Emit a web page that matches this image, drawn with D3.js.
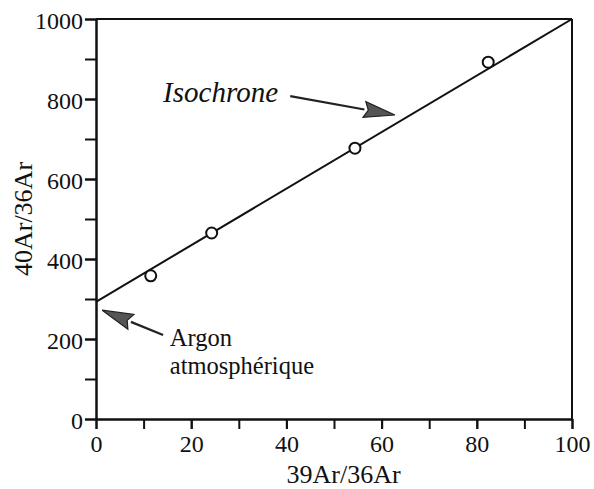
<!DOCTYPE html>
<html>
<head>
<meta charset="utf-8">
<script src="https://cdn.jsdelivr.net/npm/d3@7"></script>
<style>
  html, body { margin: 0; padding: 0; background: #fff; }
  svg { display: block; }
  svg text { font-family: "Liberation Serif", "Times New Roman", serif; fill: #111; }
</style>
</head>
<body>
<div id="chart"></div>
<script>
// ---- data ----
const pointX = [11.5, 24.3, 54.4, 82.4];
const pointY = [358, 465, 677, 892];
const lineX = [0, 100];
const lineY = [293, 1000];
const xTicks = [0, 20, 40, 60, 80, 100];
const xMinorTicks = [0, 10, 20, 30, 40, 50, 60, 70, 80, 90, 100];
const yTicks = [0, 200, 400, 600, 800, 1000];
const yMinorTicks = [0, 100, 200, 300, 400, 500, 600, 700, 800, 900, 1000];
const xTitle = "39Ar/36Ar";
const yTitle = "40Ar/36Ar";
// annotations (data units)
const isoLabel = {text: "Isochrone", x: 14.1, y: 792};
const isoArrow = {x1: 40.8, y1: 807, x2: 62.8, y2: 760};
const argonLabel = {lines: ["Argon", "atmosphérique"], x: 15.5, y: 182};
const argonArrow = {x1: 14.1, y1: 210, x2: 1.3, y2: 272};

// ---- layout ----
const W = 594, H = 489;
const m = {left: 96, top: 19, right: 22, bottom: 70};
const iw = W - m.left - m.right, ih = H - m.top - m.bottom;

const svg = d3.select("#chart").append("svg").attr("width", W).attr("height", H);
const g = svg.append("g").attr("transform", `translate(${m.left},${m.top})`);

const x = d3.scaleLinear().domain([0, 100]).range([0, iw]);
const y = d3.scaleLinear().domain([0, 1000]).range([ih, 0]);

// frame top/right
g.append("line").attr("x1", 0).attr("x2", iw).attr("y1", 0).attr("y2", 0)
  .attr("stroke", "#111").attr("stroke-width", 2);
g.append("line").attr("x1", iw).attr("x2", iw).attr("y1", 0).attr("y2", ih)
  .attr("stroke", "#111").attr("stroke-width", 2);

function styleAxis(s) {
  s.attr("font-family", null).attr("font-size", null);
  s.select(".domain").attr("stroke", "#111").attr("stroke-width", 2);
  s.selectAll(".tick line").attr("stroke", "#111").attr("stroke-width", 2);
  s.selectAll(".tick text").attr("fill", "#111").style("font-size", "24px");
}

// x axis
const xa = g.append("g").attr("transform", `translate(0,${ih})`)
  .call(d3.axisBottom(x).tickValues(xMinorTicks).tickSize(10).tickSizeOuter(0).tickFormat(""));
const xb = g.append("g").attr("transform", `translate(0,${ih})`)
  .call(d3.axisBottom(x).tickValues(xTicks).tickSize(10).tickSizeOuter(0).tickPadding(5).tickFormat(d3.format("d")));
styleAxis(xa); styleAxis(xb);
xb.selectAll(".tick text").attr("dy", "0.74em");

// y axis
const ya = g.append("g")
  .call(d3.axisLeft(y).tickValues(yMinorTicks).tickSize(11).tickSizeOuter(0).tickFormat(""));
const yb = g.append("g")
  .call(d3.axisLeft(y).tickValues(yTicks).tickSize(11).tickSizeOuter(0).tickPadding(2).tickFormat(d3.format("d")));
styleAxis(ya); styleAxis(yb);
yb.selectAll(".tick text").attr("dy", "0.4em");

// axis titles
svg.append("text")
  .attr("x", m.left + x(52)).attr("y", 483)
  .attr("text-anchor", "middle").style("font-size", "26px")
  .text(xTitle);
svg.append("text")
  .attr("transform", `translate(32,${m.top + y(500)}) rotate(-90)`)
  .attr("text-anchor", "middle").style("font-size", "26px")
  .text(yTitle);

// isochrone line
g.append("line")
  .attr("x1", x(lineX[0])).attr("y1", y(lineY[0]))
  .attr("x2", x(lineX[1])).attr("y2", y(lineY[1]))
  .attr("stroke", "#111").attr("stroke-width", 2);

// points
g.selectAll("circle.pt").data(pointX.map((d, i) => [d, pointY[i]])).join("circle")
  .attr("class", "pt")
  .attr("cx", d => x(d[0])).attr("cy", d => y(d[1]))
  .attr("r", 5.5).attr("fill", "#fff").attr("stroke", "#111").attr("stroke-width", 2);

// arrows
function arrow(a) {
  const x1 = x(a.x1), y1 = y(a.y1), x2 = x(a.x2), y2 = y(a.y2);
  const ang = Math.atan2(y2 - y1, x2 - x1);
  const L = 31, Wd = 8;
  const bx = x2 - L * Math.cos(ang), by = y2 - L * Math.sin(ang);
  g.append("line").attr("x1", x1).attr("y1", y1).attr("x2", bx).attr("y2", by)
    .attr("stroke", "#222").attr("stroke-width", 2.2);
  const px = -Math.sin(ang) * Wd, py = Math.cos(ang) * Wd;
  g.append("path")
    .attr("d", `M${x2},${y2}L${bx + px},${by + py}L${bx + 4 * Math.cos(ang)},${by + 4 * Math.sin(ang)}L${bx - px},${by - py}Z`)
    .attr("fill", "#555").attr("stroke", "#222").attr("stroke-width", 1.2).attr("stroke-linejoin", "miter");
}
arrow(isoArrow);
arrow(argonArrow);

// annotation texts
g.append("text").attr("x", x(isoLabel.x)).attr("y", y(isoLabel.y))
  .style("font-size", "29px").style("font-style", "italic").text(isoLabel.text);
const at = g.append("text").attr("x", x(argonLabel.x)).attr("y", y(argonLabel.y))
  .style("font-size", "24.5px");
argonLabel.lines.forEach((t, i) => at.append("tspan").attr("x", x(argonLabel.x)).attr("dy", i ? 28 : 0).text(t));
</script>
</body>
</html>
